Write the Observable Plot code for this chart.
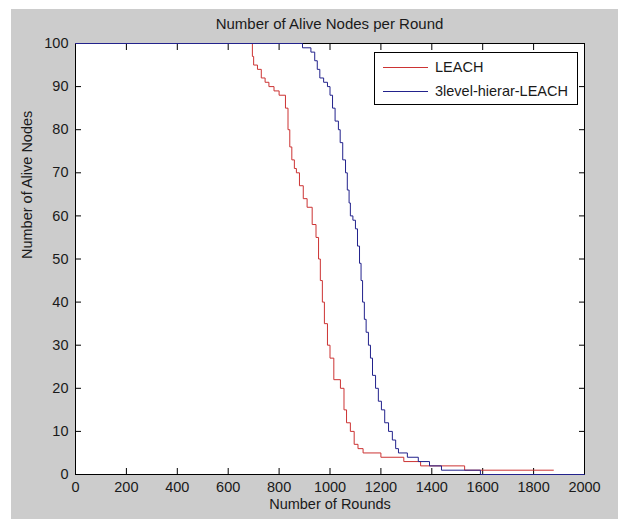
<!DOCTYPE html>
<html>
<head>
<meta charset="utf-8">
<script src="https://cdn.jsdelivr.net/npm/d3@7"></script>
<script src="https://cdn.jsdelivr.net/npm/@observablehq/plot@0.6"></script>
<style>
  body { margin: 0; background: #ffffff; font-family: "Liberation Sans", Arial, sans-serif; }
  #fig { position: absolute; left: 11px; top: 9px; width: 607px; height: 510px; background: #cccccc; }
  #title { position: relative; height: 22px; }
  #title span { position: absolute; left: 64px; width: 509px; top: 0; line-height: 30px; text-align: center; font-size: 15px; color: #1a1a1a; }
  #chart svg { display: block; }
  #legend { position: absolute; left: 374px; top: 52px; width: 202px; height: 51px; background: #fff; border: 1px solid #000; }
  #legend .row { position: absolute; left: 0; height: 20px; width: 100%; }
  #legend svg { position: absolute; left: 8px; top: 0; }
  #legend .lab { position: absolute; left: 60px; top: 0; line-height: 20px; font-size: 14.5px; color: #1a1a1a; white-space: nowrap; }
</style>
</head>
<body>
<div id="fig">
  <div id="title"><span></span></div>
  <div id="chart"></div>
</div>
<div id="legend"></div>
<script>
// ---- data ----
const titleText = "Number of Alive Nodes per Round";
const xLabel = "Number of Rounds";
const yLabel = "Number of Alive Nodes";
const seriesNames = ["LEACH", "3level-hierar-LEACH"];
const seriesColors = ["#cc3333", "#22228c"];

const xTicks = [0, 200, 400, 600, 800, 1000, 1200, 1400, 1600, 1800, 2000];
const yTicks = [0, 10, 20, 30, 40, 50, 60, 70, 80, 90, 100];

// LEACH (step changes: round where value begins)
const leachRounds = [0, 695, 700, 715, 730, 745, 760, 780, 800, 825, 835, 842, 850, 860, 868, 880, 895, 910, 930, 945, 955, 962, 970, 978, 990, 1000, 1015, 1041, 1055, 1065, 1080, 1095, 1110, 1130, 1200, 1290, 1356, 1529, 1878];
const leachAlive  = [100, 97, 95, 94, 92, 91, 90, 89, 88, 85, 80, 76, 73, 71, 70, 67, 64, 62, 58, 55, 50, 45, 40, 35, 30, 27, 22, 20, 15, 12, 10, 7, 6, 5, 4, 3, 2, 1, 1];

// 3level-hierar-LEACH
const hierRounds = [0, 892, 925, 940, 950, 960, 975, 990, 1000, 1010, 1020, 1033, 1040, 1050, 1061, 1068, 1075, 1080, 1090, 1100, 1108, 1116, 1122, 1128, 1135, 1142, 1151, 1159, 1167, 1179, 1190, 1202, 1215, 1230, 1245, 1258, 1269, 1304, 1347, 1391, 1438, 1591, 2000];
const hierAlive  = [100, 99, 98, 96, 94, 92, 91, 90, 88, 85, 82, 80, 77, 73, 70, 66, 63, 60, 59, 57, 53, 49, 45, 40, 36, 33, 30, 27, 23, 20, 17, 15, 12, 10, 8, 6, 5, 4, 3, 2, 1, 0, 0];

// ---- build ----
const leach = leachRounds.map((r, i) => ({round: r, alive: leachAlive[i]}));
const hier = hierRounds.map((r, i) => ({round: r, alive: hierAlive[i]}));

document.querySelector("#title span").textContent = titleText;

const textColor = "#1a1a1a";
const chart = Plot.plot({
  width: 607,
  height: 488,
  marginLeft: 64,
  marginRight: 34,
  marginTop: 12,
  marginBottom: 45,
  style: {fontFamily: "Liberation Sans, Arial, sans-serif", fontSize: "14.5px", background: "transparent", color: "#000"},
  x: {domain: [0, 2000]},
  y: {domain: [0, 100]},
  marks: [
    Plot.frame({stroke: "#000", fill: "#fff"}),
    // tick labels
    Plot.axisX({ticks: xTicks, tickSize: 0, tickPadding: 7, label: null, fill: textColor, tickFormat: d => String(d)}),
    Plot.axisY({ticks: yTicks, tickSize: 0, tickPadding: 7, label: null, fill: textColor, tickFormat: d => String(d)}),
    // inward ticks on all sides
    Plot.axisX({ticks: xTicks, anchor: "bottom", tickSize: 6, dy: -6, fill: "none", label: null, stroke: "#000"}),
    Plot.axisX({ticks: xTicks, anchor: "top", tickSize: 6, dy: 6, fill: "none", label: null, stroke: "#000"}),
    Plot.axisY({ticks: yTicks, anchor: "left", tickSize: 6, dx: 6, fill: "none", label: null, stroke: "#000"}),
    Plot.axisY({ticks: yTicks, anchor: "right", tickSize: 6, dx: -6, fill: "none", label: null, stroke: "#000"}),
    // axis titles
    Plot.text([xLabel], {frameAnchor: "bottom", dy: 34, text: d => d, fill: textColor}),
    Plot.text([yLabel], {frameAnchor: "left", dx: -48, rotate: -90, text: d => d, fill: textColor}),
    // series
    Plot.line(leach, {x: "round", y: "alive", curve: "step-after", stroke: seriesColors[0], strokeWidth: 1}),
    Plot.line(hier, {x: "round", y: "alive", curve: "step-after", stroke: seriesColors[1], strokeWidth: 1})
  ]
});
document.getElementById("chart").appendChild(chart);

// legend
const legend = document.getElementById("legend");
seriesNames.forEach((name, i) => {
  const row = document.createElement("div");
  row.className = "row";
  row.style.top = (4 + i * 24) + "px";
  row.innerHTML = `<svg width="46" height="20"><line x1="0" y1="10.5" x2="45" y2="10.5" stroke="${seriesColors[i]}" stroke-width="1"/></svg><span class="lab"></span>`;
  row.querySelector(".lab").textContent = name;
  legend.appendChild(row);
});
</script>
</body>
</html>
